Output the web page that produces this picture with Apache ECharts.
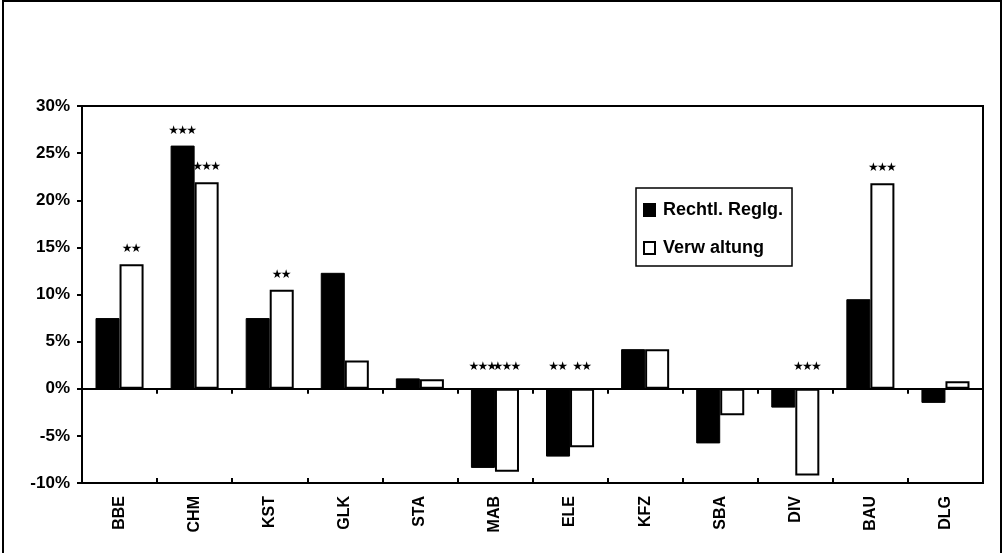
<!DOCTYPE html>
<html>
<head>
<meta charset="utf-8">
<script src="https://cdn.jsdelivr.net/npm/echarts@6/dist/echarts.min.js"></script>
<style>
  html, body { margin: 0; padding: 0; background: #fff; }
  #chart { width: 1005px; height: 553px; }
</style>
</head>
<body>
<div id="chart"></div>
<script>
const categories = ['BBE', 'CHM', 'KST', 'GLK', 'STA', 'MAB', 'ELE', 'KFZ', 'SBA', 'DIV', 'BAU', 'DLG'];
const seriesNames = ['Rechtl. Reglg.', 'Verw altung'];
// Werte in %
const rechtlValues = [7.5, 25.8, 7.5, 12.3, 1.1, -8.4, -7.2, 4.2, -5.8, -2.0, 9.5, -1.5];
const verwValues = [13.2, 21.9, 10.5, 3.0, 1.0, -8.8, -6.2, 4.2, -2.8, -9.2, 21.8, 0.8];
// Signifikanzsterne (Anzahl)
const rechtlStars = [0, 3, 0, 0, 0, 3, 2, 0, 0, 0, 0, 0];
const verwStars = [2, 3, 2, 0, 0, 3, 2, 0, 0, 3, 3, 0];
const yTicks = { min: -10, max: 30, interval: 5 };

const FONT = '"Liberation Sans", Arial, sans-serif';
const chart = echarts.init(document.getElementById('chart'), null, { renderer: 'canvas' });

// Sterne über den Balken (bei negativen Werten über der Nulllinie)
function starSeries(values, stars, side) {
  return {
    type: 'custom',
    xAxisIndex: 0,
    yAxisIndex: 0,
    silent: true,
    z: 5,
    data: values.map((v, i) => [i, v]),
    renderItem: (params, api) => {
      const idx = api.value(0);
      const n = stars[idx];
      if (!n) return null;
      const v = api.value(1);
      const pt = api.coord([idx, v > 0 ? v : 0]);
      const bw = api.size([1, 0])[0] * 0.32;
      const cx = pt[0] + side * bw / 2;
      const cy = pt[1] - (v > 0 ? 15 : 22);
      const step = 9;
      const children = [];
      for (let k = 0; k < n; k++) {
        children.push({
          type: 'text',
          style: {
            text: '★',
            x: cx + (k - (n - 1) / 2) * step,
            y: cy,
            align: 'center',
            verticalAlign: 'middle',
            font: '12px "DejaVu Sans", sans-serif',
            fill: '#000'
          }
        });
      }
      return { type: 'group', children: children };
    }
  };
}

const axisCommon = {
  type: 'category',
  data: categories,
  gridIndex: 0
};

const option = {
  animation: false,
  backgroundColor: '#fff',
  graphic: [{
    type: 'rect',
    shape: { x: 3, y: 1, width: 998, height: 570 },
    style: { fill: 'none', stroke: '#000', lineWidth: 2 },
    silent: true
  }],
  grid: {
    left: 82,
    right: 22,
    top: 106,
    bottom: 70,
    show: true,
    borderColor: '#000',
    borderWidth: 2,
    backgroundColor: 'transparent'
  },
  legend: {
    data: [
      { name: seriesNames[0] },
      { name: seriesNames[1] }
    ],
    orient: 'vertical',
    left: 636,
    top: 188,
    padding: [12, 9, 8, 7],
    itemGap: 18,
    itemWidth: 11,
    itemHeight: 12,
    icon: 'rect',
    borderColor: '#000',
    borderWidth: 1.5,
    backgroundColor: '#fff',
    textStyle: {
      fontFamily: FONT,
      fontSize: 18,
      fontWeight: 'bold',
      lineHeight: 20,
      color: '#000',
      padding: [0, 0, 0, 3]
    }
  },
  xAxis: [
    Object.assign({}, axisCommon, {
      axisLine: { show: false, onZero: false },
      axisTick: { show: false },
      axisLabel: {
        rotate: 90,
        interval: 0,
        margin: 13,
        fontFamily: FONT,
        fontSize: 16,
        fontWeight: 'bold',
        color: '#000'
      }
    }),
    Object.assign({}, axisCommon, {
      position: 'bottom',
      axisLine: { show: true, onZero: true, lineStyle: { color: '#000', width: 2 } },
      axisTick: { show: true, inside: false, length: 5, lineStyle: { color: '#000', width: 2 } },
      axisLabel: { show: false }
    }),
    Object.assign({}, axisCommon, {
      position: 'bottom',
      axisLine: { show: false, onZero: true },
      axisTick: { show: true, inside: true, length: 5, lineStyle: { color: '#000', width: 2 } },
      axisLabel: { show: false }
    })
  ],
  yAxis: {
    type: 'value',
    min: yTicks.min,
    max: yTicks.max,
    interval: yTicks.interval,
    splitLine: { show: false },
    axisLine: { show: true, lineStyle: { color: '#000', width: 2 } },
    axisTick: { show: true, length: 5, lineStyle: { color: '#000', width: 2 } },
    axisLabel: {
      formatter: '{value}%',
      margin: 12,
      fontFamily: FONT,
      fontSize: 17,
      fontWeight: 'bold',
      color: '#000'
    }
  },
  series: [
    {
      name: seriesNames[0],
      type: 'bar',
      xAxisIndex: 0,
      data: rechtlValues,
      barGap: '0%',
      barCategoryGap: '36%',
      itemStyle: { color: '#000', borderColor: '#000', borderWidth: 1 }
    },
    {
      name: seriesNames[1],
      type: 'bar',
      xAxisIndex: 0,
      data: verwValues,
      barGap: '0%',
      barCategoryGap: '36%',
      itemStyle: { color: '#fff', borderColor: '#000', borderWidth: 2 }
    },
    starSeries(rechtlValues, rechtlStars, -1),
    starSeries(verwValues, verwStars, 1)
  ]
};

chart.setOption(option);
</script>
</body>
</html>
